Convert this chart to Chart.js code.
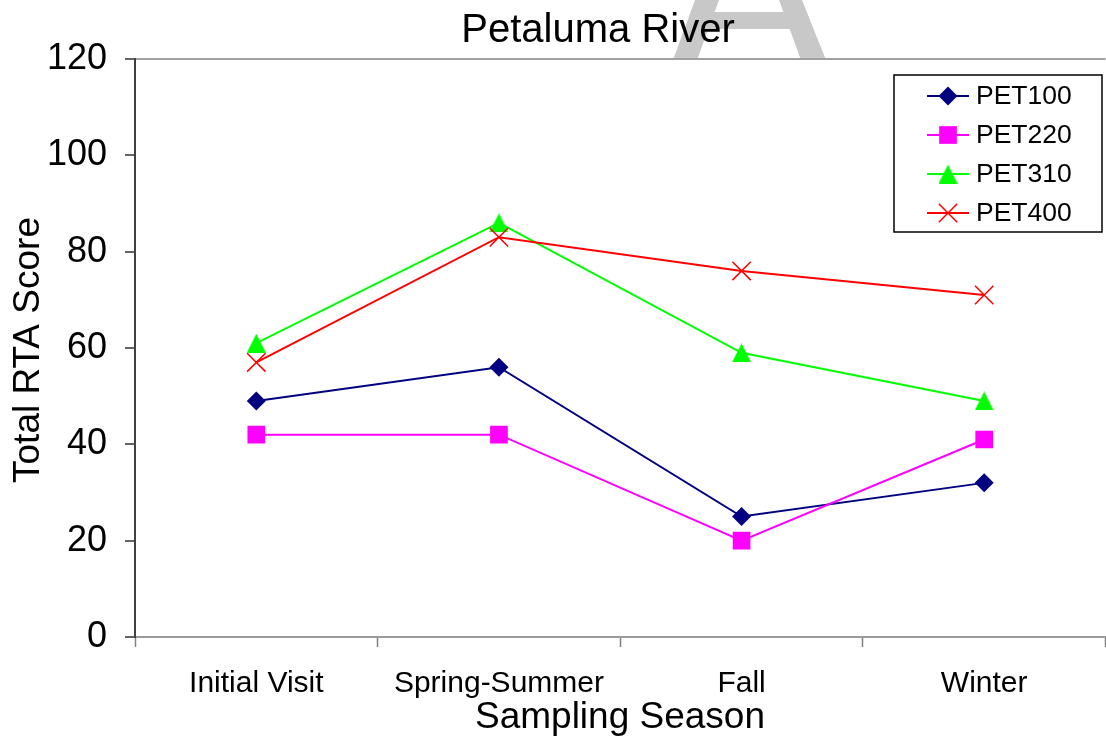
<!DOCTYPE html>
<html>
<head>
<meta charset="utf-8">
<title>Petaluma River</title>
<script src="https://cdn.jsdelivr.net/npm/chart.js@4.4.0/dist/chart.umd.min.js"></script>
<style>
    html, body { margin: 0; padding: 0; background: #fff; overflow: hidden; }
    #wrap { width: 1120px; height: 738px; }
</style>
</head>
<body>
<div id="wrap"><canvas id="rtaChart" width="1120" height="738"></canvas></div>
<script>
// Sampling seasons on the x axis
const seasons = ['Initial Visit', 'Spring-Summer', 'Fall', 'Winter'];

// Total RTA score per site, one value per season
const pet100 = [49, 56, 25, 32];
const pet220 = [42, 42, 20, 41];
const pet310 = [61, 86, 59, 49];
const pet400 = [57, 83, 76, 71];

// Y axis range
const yMin = 0;
const yMax = 120;
const yStep = 20;

const fontFamily = '"Liberation Sans", Arial, sans-serif';

// Triangle marker centred on the point, like the spreadsheet one
function triangleMarker(color, size) {
    const c = document.createElement('canvas');
    c.width = size;
    c.height = size;
    const g = c.getContext('2d');
    g.fillStyle = color;
    g.beginPath();
    g.moveTo(size / 2, 0);
    g.lineTo(size, size);
    g.lineTo(0, size);
    g.closePath();
    g.fill();
    return c;
}

// Titles, watermark and the boxed legend inside the plot
const textPlugin = {
    id: 'textPlugin',
    beforeDraw(chart) {
        const ctx = chart.ctx;
        const area = chart.chartArea;
        ctx.save();
        ctx.fillStyle = '#fff';
        ctx.fillRect(0, 0, chart.width, chart.height);
        // bits of a big grey watermark letter peeking above the plot
        ctx.beginPath();
        ctx.rect(0, 0, chart.width, area.top);
        ctx.clip();
        ctx.fillStyle = '#c8c8c8';
        ctx.beginPath();
        ctx.moveTo(695, 0); ctx.lineTo(719, 0); ctx.lineTo(697, 60); ctx.lineTo(673, 60); ctx.closePath();
        ctx.moveTo(779, 0); ctx.lineTo(802, 0); ctx.lineTo(826, 60); ctx.lineTo(801, 60); ctx.closePath();
        ctx.moveTo(712, 12); ctx.lineTo(786, 12); ctx.lineTo(791, 29); ctx.lineTo(706, 29); ctx.closePath();
        ctx.fill();
        ctx.restore();
    },
    afterDraw(chart) {
        const ctx = chart.ctx;
        const area = chart.chartArea;
        ctx.save();
        ctx.fillStyle = '#000';
        ctx.textBaseline = 'alphabetic';
        ctx.textAlign = 'center';

        ctx.font = '40px ' + fontFamily;
        ctx.fillText('Petaluma River', 598, 42);

        ctx.font = '37px ' + fontFamily;
        ctx.fillText('Sampling Season', 620, 728);

        ctx.save();
        ctx.translate(39, (area.top + area.bottom) / 2 + 2);
        ctx.rotate(-Math.PI / 2);
        ctx.fillText('Total RTA Score', 0, 0);
        ctx.restore();

        // legend box
        const lx = 894, ly = 75, lw = 208, lh = 157;
        ctx.strokeStyle = '#000';
        ctx.lineWidth = 1.5;
        ctx.strokeRect(lx, ly, lw, lh);
        ctx.font = '26.5px ' + fontFamily;
        ctx.textAlign = 'left';
        ctx.textBaseline = 'middle';
        chart.data.datasets.forEach((ds, i) => {
            const y = 96 + i * 39;
            ctx.strokeStyle = ds.borderColor;
            ctx.lineWidth = ds.borderWidth;
            ctx.beginPath();
            ctx.moveTo(927, y);
            ctx.lineTo(969, y);
            ctx.stroke();
            ctx.fillStyle = ds.pointBackgroundColor;
            ctx.strokeStyle = ds.pointBorderColor;
            ctx.lineWidth = ds.pointBorderWidth;
            Chart.helpers.drawPoint(ctx, {
                pointStyle: ds.pointStyle,
                radius: ds.pointRadius,
                borderWidth: ds.pointBorderWidth,
                rotation: 0
            }, 948, y);
            ctx.fillStyle = '#000';
            ctx.fillText(ds.label, 976, y + 1);
        });
        ctx.restore();
    }
};

function createChart() {
    const ctx = document.getElementById('rtaChart').getContext('2d');
    const data = {
        labels: seasons,
        datasets: [{
            label: 'PET100',
            data: pet100,
            borderColor: '#000080',
            backgroundColor: '#000080',
            borderWidth: 2,
            pointStyle: 'rectRot',
            pointRadius: 9.5,
            pointBackgroundColor: '#000080',
            pointBorderColor: '#000080',
            pointBorderWidth: 0,
            order: 3
        }, {
            label: 'PET220',
            data: pet220,
            borderColor: '#FF00FF',
            backgroundColor: '#FF00FF',
            borderWidth: 2,
            pointStyle: 'rect',
            pointRadius: 12.5,
            pointBackgroundColor: '#FF00FF',
            pointBorderColor: '#FF00FF',
            pointBorderWidth: 0,
            order: 2
        }, {
            label: 'PET310',
            data: pet310,
            borderColor: '#00FF00',
            backgroundColor: '#00FF00',
            borderWidth: 2,
            pointStyle: triangleMarker('#00FF00', 19),
            pointRadius: 10,
            pointBackgroundColor: '#00FF00',
            pointBorderColor: '#00FF00',
            pointBorderWidth: 0,
            order: 1
        }, {
            label: 'PET400',
            data: pet400,
            borderColor: '#FF0000',
            backgroundColor: '#FF0000',
            borderWidth: 2,
            pointStyle: 'crossRot',
            pointRadius: 13,
            pointBackgroundColor: '#FF0000',
            pointBorderColor: '#FF0000',
            pointBorderWidth: 1.5,
            order: 0
        }]
    };
    const config = {
        type: 'line',
        data: data,
        options: {
            responsive: false,
            devicePixelRatio: 1,
            animation: false,
            layout: {
                padding: { left: 0, right: 7, top: 59, bottom: 0 }
            },
            elements: {
                line: { tension: 0, fill: false }
            },
            scales: {
                x: {
                    offset: true,
                    grid: {
                        offset: true,
                        drawOnChartArea: false,
                        color: '#808080',
                        tickLength: 10,
                        tickWidth: 1.5
                    },
                    border: { color: '#9a9a9a', width: 2 },
                    ticks: {
                        color: '#000',
                        font: { size: 30, family: fontFamily },
                        padding: 19,
                        maxRotation: 0,
                        autoSkip: false
                    },
                    afterFit(scale) { scale.height = 101; }
                },
                y: {
                    min: yMin,
                    max: yMax,
                    grid: {
                        color: function(c) {
                            return c.tick && c.tick.value === yMax ? '#a0a0a0' : 'rgba(0,0,0,0)';
                        },
                        lineWidth: 2,
                        tickColor: '#303030',
                        tickLength: 10,
                        tickWidth: 1.5
                    },
                    border: { color: '#404040', width: 2 },
                    ticks: {
                        stepSize: yStep,
                        color: '#000',
                        font: { size: 36, family: fontFamily },
                        padding: 18
                    },
                    afterFit(scale) { scale.width = 135; }
                }
            },
            plugins: {
                legend: { display: false },
                title: { display: false },
                tooltip: { enabled: false }
            }
        },
        plugins: [textPlugin]
    };
    return new Chart(ctx, config);
}

const rtaChart = createChart();
</script>
</body>
</html>
